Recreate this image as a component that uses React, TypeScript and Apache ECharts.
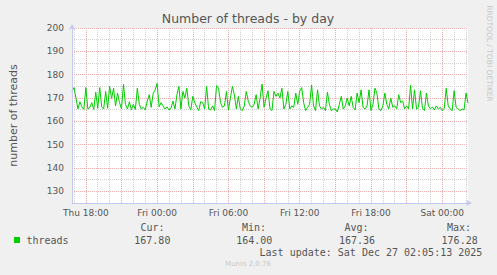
import React, { useEffect, useRef } from "react";
import * as echarts from "echarts";

// Sampling of the series: Thu 16:50 onwards, one sample every 10 minutes
const startMinutes = 16 * 60 + 50;
const stepMinutes = 10;
const dayNames = ["Thu", "Fri", "Sat"];

const threads: number[] = [
  172.8, 174.5, 170, 165.3, 168.4, 166.2, 165.1, 174.5, 165.3, 166, 168, 165.1, 172.5, 165.6, 174.5, 166.2, 165.3,
  172.8, 165.6, 175, 169.8, 174.2, 166.6, 172.1, 168, 165.3, 175.8, 167.3, 165.3, 168.4, 164.9, 167.3, 165.1, 174.2,
  167.3, 165.3, 166, 164.9, 168.7, 171.4, 166, 172, 173.5, 176.28, 166.2, 168, 166.6, 165.3, 166.2, 164.9, 165.6,
  168.7, 165.3, 171.4, 175, 165.3, 172.8, 170, 174.2, 166.6, 164.9, 170.7, 168, 166.2, 164.6, 168.4, 168,
  165.3, 175, 165.3, 164.9, 166.6, 164.6, 175.3, 174.2, 168, 166, 166.6, 172.8, 164.9, 170, 175, 171.4, 165.3,
  170.7, 165.3, 164.6, 166.6, 172.8, 168.7, 166.6, 166, 167.3, 171.4, 165.3, 170, 176.0, 166, 170, 173.1,
  165.3, 164.6, 172.8, 170.7, 172.1, 170, 174.2, 165.3, 167.3, 172.8, 165.3, 166.6, 166, 172.1, 167.3, 172.8, 174.5,
  168, 164.6, 166, 167.3, 175.5, 166.6, 164.6, 173.5, 166.6, 165.3, 166, 164.6, 172.5, 167.3, 164.6, 165.3,
  165.3, 164.0, 167.3, 170.7, 165.3, 166.6, 170, 166.6, 170.7, 166, 164.9, 172.1, 168, 173.5, 166, 165.3, 166.6,
  173.5, 164.6, 167.3, 174.2, 172.1, 165.3, 164.6, 166.6, 172.1, 167.3, 165.3, 170, 166, 166.6, 165.3, 171.4, 168,
  168.7, 165.3, 166.6, 165.3, 175.5, 165.3, 173.5, 165.3, 166, 173.1, 165.6, 164.6, 172.1, 166.6, 165.3, 166.2, 164.9,
  166.6, 165.3, 166, 164.6, 165.6, 174.2, 166.6, 165.3, 164.6, 173.1, 166, 165.3, 164.6, 165.3, 164.9, 172.1, 167.8,
];

const yMajorTicks = [130, 140, 150, 160, 170, 180, 190, 200];
const yMinorTicks = [135, 145, 155, 165, 175, 185, 195];

const statLabels = ["Cur:", "Min:", "Avg:", "Max:"];
const statValues = ["167.80", "164.00", "167.36", "176.28"];
const seriesName = "threads";
const titleText = "Number of threads - by day";
const yAxisName = "number of threads";
const lastUpdate = "Last update: Sat Dec 27 02:05:13 2025";
const footer = "Munin 2.0.76";
const sideText = "RRDTOOL / TOBI OETIKER";

const minutesOf = (i: number) => startMinutes + i * stepMinutes;
const pad = (n: number) => (n < 10 ? "0" + n : "" + n);
const categories = threads.map((_, i) => {
  const m = minutesOf(i);
  const day = dayNames[Math.floor(m / 1440)];
  const mod = m % 1440;
  return `${day} ${pad(Math.floor(mod / 60))}:${pad(mod % 60)}`;
});

const isHour = (i: number) => minutesOf(i) % 60 === 0;
const isMajor = (i: number) => minutesOf(i) % 180 === 0;
const isLabel = (i: number) => minutesOf(i) % 360 === 0;

const GRAY = "#D2D2D2";
const RED = "#F2AEAE";
const AXIS = "#C4C8F2";
const TXT = "#555555";
const SANS = "'DejaVu Sans', sans-serif";
const MONO = "'DejaVu Sans Mono', monospace";

export default function App() {
  const ref = useRef<HTMLDivElement>(null);
  useEffect(() => {
    document.body.style.margin = "0";
    const chart = echarts.init(ref.current!, undefined, { renderer: "svg" });

    const minorX = categories.filter((_, i) => isHour(i) && !isMajor(i)).map((c) => ({ xAxis: c }));
    const majorX = categories.filter((_, i) => isMajor(i)).map((c) => ({ xAxis: c }));
    const minorY = yMinorTicks.map((v) => ({ yAxis: v }));
    const majorY = yMajorTicks.map((v) => ({ yAxis: v }));

    const gridSeries = (name: string, color: string, items: any[], z: number) => ({
      name,
      type: "line",
      data: threads,
      showSymbol: false,
      symbol: "none",
      silent: true,
      lineStyle: { opacity: 0 },
      z,
      markLine: {
        silent: true,
        symbol: ["none", "none"],
        label: { show: false },
        animation: false,
        lineStyle: { color, type: [1, 1], width: 1, opacity: 1 },
        emphasis: { disabled: true },
        data: items,
      },
    });

    const statGraphics: any[] = [];
    const labelRight = [164.5, 266, 368.5, 471];
    const valueRight = [170.4, 272.3, 375, 477.7];
    statLabels.forEach((t, k) =>
      statGraphics.push({
        type: "text",
        x: labelRight[k],
        y: 227,
        style: { text: t, font: `10px ${MONO}`, fill: TXT, align: "right", verticalAlign: "middle" },
      })
    );
    statValues.forEach((t, k) =>
      statGraphics.push({
        type: "text",
        x: valueRight[k],
        y: 240,
        style: { text: t, font: `10px ${MONO}`, fill: TXT, align: "right", verticalAlign: "middle" },
      })
    );
    chart.setOption({
      animation: false,
      backgroundColor: "#F0F0F0",
      grid: { left: 67, top: 28, width: 401, height: 175, show: true, backgroundColor: "#FFFFFF", borderWidth: 0 },
      xAxis: {
        type: "category",
        data: categories,
        boundaryGap: false,
        position: "bottom",
        z: 10,
        axisLine: { show: true, lineStyle: { color: AXIS, width: 1 }, symbol: ["none", "arrow"], symbolSize: [5, 6], symbolOffset: [0, 4] },
        axisTick: { show: false },
        axisLabel: {
          interval: (i: number) => isLabel(i),
          color: TXT,
          fontFamily: SANS,
          fontSize: 9,
          margin: 5,
        },
        splitLine: { show: false },
      },
      yAxis: {
        type: "value",
        min: 125,
        max: 200,
        interval: 5,
        position: "left",
        z: 10,
        name: yAxisName,
        nameLocation: "middle",
        nameGap: 53,
        nameTextStyle: { color: TXT, fontFamily: SANS, fontSize: 11 },
        axisLine: { show: true, lineStyle: { color: AXIS, width: 1 }, symbol: ["none", "arrow"], symbolSize: [5, 6], symbolOffset: [0, 4] },
        axisTick: { show: false },
        axisLabel: {
          color: TXT,
          fontFamily: SANS,
          fontSize: 9,
          margin: 8,
          formatter: (v: number) => (v % 10 === 0 ? String(v) : ""),
        },
        splitLine: { show: false },
      },
      series: [
        gridSeries("minorGrid", GRAY, [...minorX, ...minorY], 1),
        gridSeries("majorGrid", RED, [...majorX, ...majorY], 2),
        {
          name: seriesName,
          type: "line",
          data: threads,
          showSymbol: false,
          symbol: "none",
          lineStyle: { color: "#00CC00", width: 1 },
          z: 5,
        },
      ],
      graphic: [
        {
          type: "text",
          x: 248,
          y: 18.5,
          style: { text: titleText, font: `12.5px ${SANS}`, fill: TXT, align: "center", verticalAlign: "middle" },
        },
        {
          type: "text",
          x: 489.5,
          y: 53.5,
          rotation: -Math.PI / 2,
          style: { text: sideText, font: `7.5px ${SANS}`, fill: "#C8C8C8", align: "center", verticalAlign: "middle" },
        },
        { type: "rect", shape: { x: 14, y: 237, width: 6, height: 6 }, style: { fill: "#00CC00" } },
        {
          type: "text",
          x: 26.5,
          y: 240,
          style: { text: seriesName, font: `10px ${MONO}`, fill: TXT, align: "left", verticalAlign: "middle" },
        },
        ...statGraphics,
        {
          type: "text",
          x: 482.3,
          y: 252,
          style: { text: lastUpdate, font: `10px ${MONO}`, fill: TXT, align: "right", verticalAlign: "middle" },
        },
        {
          type: "text",
          x: 248,
          y: 264,
          style: { text: footer, font: `7px ${SANS}`, fill: "#C8C8C8", align: "center", verticalAlign: "middle" },
        },
      ],
    });
    return () => chart.dispose();
  }, []);
  return <div ref={ref} style={{ position: "absolute", left: 0, top: 0, width: 497, height: 275 }} />;
}
